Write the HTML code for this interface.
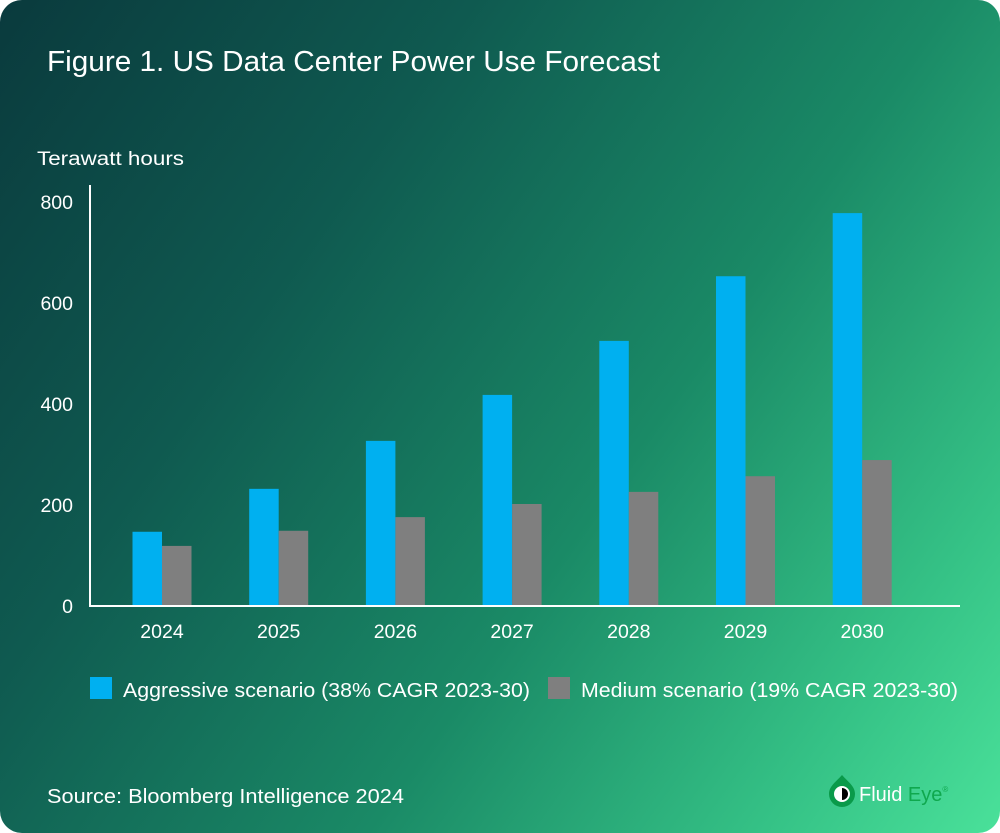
<!DOCTYPE html>
<html><head><meta charset="utf-8"><style>
html,body{margin:0;padding:0;background:#fff;}
#card{position:absolute;left:0;top:0;width:1000px;height:833px;border-radius:22px;overflow:hidden;
background:linear-gradient(125deg,#0a3a3d 0%,#0f5a50 30%,#1a8a66 60%,#35c286 85%,#4ae19a 100%);font-family:"Liberation Sans",sans-serif;color:#fff;}
svg text{font-family:"Liberation Sans",sans-serif;fill:#fff;}
</style></head><body>
<div id="card">
<svg id="chart" width="1000" height="833">
<text x="47" y="71" font-size="29" textLength="613" lengthAdjust="spacingAndGlyphs">Figure 1. US Data Center Power Use Forecast</text>
<text x="37" y="165" font-size="19" textLength="147" lengthAdjust="spacingAndGlyphs">Terawatt hours</text>
<g id="bars"></g>
<g id="axes"></g>
<rect x="90" y="677" width="22" height="22" fill="#00b0f0"/>
<text x="123" y="697" font-size="20.5" textLength="407" lengthAdjust="spacingAndGlyphs">Aggressive scenario (38% CAGR 2023-30)</text>
<rect x="548" y="677" width="22" height="22" fill="#7f7f7f"/>
<text x="581" y="697" font-size="20.5" textLength="377" lengthAdjust="spacingAndGlyphs">Medium scenario (19% CAGR 2023-30)</text>
<text x="47" y="803" font-size="20" textLength="357" lengthAdjust="spacingAndGlyphs">Source: Bloomberg Intelligence 2024</text>
<g>
<path d="M842,775 C836,782 829,786 829,794 A13,13 0 0 0 855,794 C855,786 848,782 842,775Z" fill="#0a9a4a"/>
<circle cx="842" cy="794" r="8" fill="#fff"/>
<path d="M842,788 A6,6 0 0 1 842,800 Z" fill="#000"/>
<text x="859" y="801" font-size="20">Fluid <tspan fill="#0fa84e">Eye</tspan><tspan font-size="8" dy="-9" fill="#0fa84e">®</tspan></text>
</g>
</svg>
</div>
<script>
const categories=["2024","2025","2026","2027","2028","2029","2030"];
const aggressive=[147,232,327,418,525,653,778];
const medium=[119,149,176,202,226,257,289];
const yTicks=[0,200,400,600,800];
const NS="http://www.w3.org/2000/svg";
const y0=606,ppu=0.505,x0=162,step=116.7,bw=29.5;
function y(v){return y0-v*ppu;}
function x(i){return x0+i*step;}
const bars=document.getElementById('bars'),axes=document.getElementById('axes');
function mk(t,a,p){const e=document.createElementNS(NS,t);for(const k in a)e.setAttribute(k,a[k]);p.appendChild(e);return e;}
categories.forEach((c,i)=>{
 const a=mk('rect',{x:x(i)-bw,y:y(aggressive[i]),width:bw,height:aggressive[i]*ppu,fill:'#00b0f0'},bars);
 
 
 const m=mk('rect',{x:x(i),y:y(medium[i]),width:bw,height:medium[i]*ppu,fill:'#7f7f7f'},bars);
 
 
 const t=mk('text',{x:x(i),y:638,'font-size':19.5,'text-anchor':'middle'},axes);
 t.textContent=c;
 
 
});
yTicks.forEach(v=>{
 const t=mk('text',{x:73,y:y(v)+7,'font-size':19.5,'text-anchor':'end'},axes);
 t.textContent=v;
 
 
});
const ya=mk('line',{x1:90,y1:185,x2:90,y2:y0,stroke:'#fff','stroke-width':2},axes);


const xa=mk('line',{x1:89,y1:y0,x2:960,y2:y0,stroke:'#fff','stroke-width':2},axes);


</script>
</body></html>
